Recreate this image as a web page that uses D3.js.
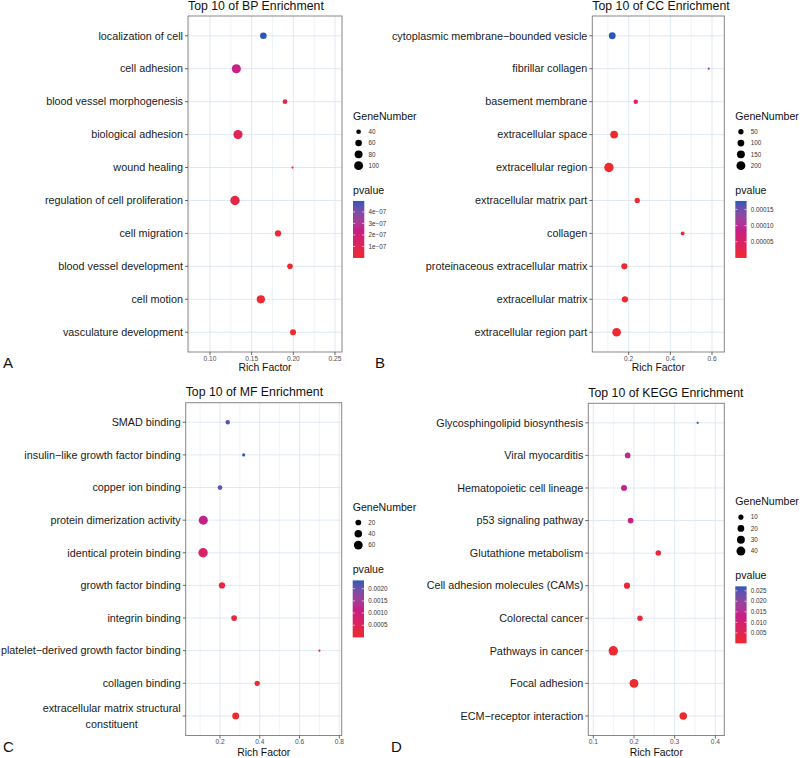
<!DOCTYPE html>
<html><head><meta charset="utf-8">
<script src="https://cdn.jsdelivr.net/npm/d3@7"></script>
<style>
body{margin:0;background:#fff}
svg{display:block;font-family:'Liberation Sans',Arial,Helvetica,sans-serif}
</style>
</head><body>
<svg id="chart" width="800" height="758"></svg>
<script>
// ---------- DATA ----------
const bpTerms = ["localization of cell","cell adhesion","blood vessel morphogenesis","biological adhesion","wound healing","regulation of cell proliferation","cell migration","blood vessel development","cell motion","vasculature development"];
const bpRich = [0.164,0.1316,0.190,0.1336,0.199,0.130,0.1816,0.196,0.161,0.1996];
const bpGenes = [60,104,40,106,30,110,55,48,86,52];
const bpPvalues = [4.95e-7,2.3e-7,0.7e-7,1.0e-7,0.3e-7,0.6e-7,0.2e-7,0.1e-7,0.05e-7,1e-10];
const bpXDomain = [0.0736,0.2584];
const bpXTicks = [0.10,0.15,0.20,0.25];
const bpXTickLabels = ["0.10","0.15","0.20","0.25"];
const bpGeneBreaks = [40,60,80,100];
const bpPBreaks = [1e-7,2e-7,3e-7,4e-7];
const bpPLabels = ["1e\u221207","2e\u221207","3e\u221207","4e\u221207"];

const ccTerms = ["cytoplasmic membrane\u2212bounded vesicle","fibrillar collagen","basement membrane","extracellular space","extracellular region","extracellular matrix part","collagen","proteinaceous extracellular matrix","extracellular matrix","extracellular region part"];
const ccRich = [0.121,0.584,0.234,0.130,0.105,0.241,0.459,0.179,0.182,0.142];
const ccGenes = [100,10,32,140,230,50,22,75,82,190];
const ccPvalues = [1.76e-4,1.23e-4,0.44e-4,1e-6,1e-8,5e-6,8e-6,1e-7,1e-7,1e-9];
const ccXDomain = [0.0253,0.659];
const ccXTicks = [0.2,0.4,0.6];
const ccXTickLabels = ["0.2","0.4","0.6"];
const ccGeneBreaks = [50,100,150,200];
const ccPBreaks = [0.00005,0.00010,0.00015];
const ccPLabels = ["0.00005","0.00010","0.00015"];

const mfTerms = ["SMAD binding","insulin\u2212like growth factor binding","copper ion binding","protein dimerization activity","identical protein binding","growth factor binding","integrin binding","platelet\u2212derived growth factor binding","collagen binding","extracellular matrix structural\nconstituent"];
const mfRich = [0.239,0.319,0.200,0.116,0.115,0.210,0.271,0.700,0.387,0.279];
const mfGenes = [10,5,12,64,70,25,20,4,16,32];
const mfPvalues = [0.0022,0.00234,0.0021,0.00117,0.0007,0.0002,0.00015,0.0001,0.00005,1e-6];
const mfXDomain = [0.0276,0.812];
const mfXTicks = [0.2,0.4,0.6,0.8];
const mfXTickLabels = ["0.2","0.4","0.6","0.8"];
const mfGeneBreaks = [20,40,60];
const mfPBreaks = [0.0005,0.0010,0.0015,0.0020];
const mfPLabels = ["0.0005","0.0010","0.0015","0.0020"];

const keggTerms = ["Glycosphingolipid biosynthesis","Viral myocarditis","Hematopoietic cell lineage","p53 signaling pathway","Glutathione metabolism","Cell adhesion molecules (CAMs)","Colorectal cancer","Pathways in cancer","Focal adhesion","ECM\u2212receptor interaction"];
const keggRich = [0.3565,0.1845,0.1755,0.1917,0.2597,0.1828,0.2147,0.1491,0.200,0.3211];
const keggGenes = [3,13,15,13,12,16,12,46,40,27];
const keggPvalues = [0.0271,0.0150,0.0142,0.0122,0.002,0.0015,0.001,0.0005,0.0001,0.00001];
const keggXDomain = [0.0877,0.422];
const keggXTicks = [0.1,0.2,0.3,0.4];
const keggXTickLabels = ["0.1","0.2","0.3","0.4"];
const keggGeneBreaks = [10,20,30,40];
const keggPBreaks = [0.005,0.010,0.015,0.020,0.025];
const keggPLabels = ["0.005","0.010","0.015","0.020","0.025"];

// ---------- LAYOUT ----------
const panels = [
  {title:"Top 10 of BP Enrichment", tag:"A", terms:bpTerms, rich:bpRich, genes:bpGenes, p:bpPvalues, xDomain:bpXDomain, xTicks:bpXTicks, xLabels:bpXTickLabels, gBreaks:bpGeneBreaks, pBreaks:bpPBreaks, pLabels:bpPLabels,
   box:{l:188,r:342,t:16,b:352}, tagX:3, tagY:368, rfY:370.5},
  {title:"Top 10 of CC Enrichment", tag:"B", terms:ccTerms, rich:ccRich, genes:ccGenes, p:ccPvalues, xDomain:ccXDomain, xTicks:ccXTicks, xLabels:ccXTickLabels, gBreaks:ccGeneBreaks, pBreaks:ccPBreaks, pLabels:ccPLabels,
   box:{l:592.3,r:724.3,t:16,b:352}, tagX:375, tagY:368, rfY:370.5},
  {title:"Top 10 of MF Enrichment", tag:"C", terms:mfTerms, rich:mfRich, genes:mfGenes, p:mfPvalues, xDomain:mfXDomain, xTicks:mfXTicks, xLabels:mfXTickLabels, gBreaks:mfGeneBreaks, pBreaks:mfPBreaks, pLabels:mfPLabels,
   box:{l:185.7,r:341.7,t:402.7,b:735.5}, tagX:3, tagY:752, rfY:755.5},
  {title:"Top 10 of KEGG Enrichment", tag:"D", terms:keggTerms, rich:keggRich, genes:keggGenes, p:keggPvalues, xDomain:keggXDomain, xTicks:keggXTicks, xLabels:keggXTickLabels, gBreaks:keggGeneBreaks, pBreaks:keggPBreaks, pLabels:keggPLabels,
   box:{l:588.3,r:724.3,t:403.3,b:735.5}, tagX:391, tagY:752, rfY:755.5}
];

const LOW = "#ee2a2e", MID = "#c4208a", HIGH = "#2b57b8";
const R_MIN = 1.1, R_MAX = 4.7;
const svg = d3.select("#chart");
const defs = svg.append("defs");

panels.forEach((P, pi) => {
  const {l, r, t, b} = P.box;
  const g = svg.append("g");
  const x = d3.scaleLinear().domain(P.xDomain).range([l, r]);
  const y = d3.scalePoint().domain(P.terms).range([t, b]).padding(0.6);
  const pExt = d3.extent(P.p);
  const color = d3.scaleLinear().domain([pExt[0], (pExt[0] + pExt[1]) / 2, pExt[1]])
    .range([LOW, MID, HIGH]).interpolate(d3.interpolateLab);
  const gExt = d3.extent(P.genes);
  const gNorm = d3.scaleLinear().domain(gExt).range([0, 1]).clamp(true);
  const rad = v => R_MIN + (R_MAX - R_MIN) * Math.sqrt(gNorm(v));

  g.append("rect").attr("x", l).attr("y", t).attr("width", r - l).attr("height", b - t).attr("fill", "#fff");

  const step = P.xTicks[1] - P.xTicks[0];
  const minor = [];
  for (let v = P.xTicks[0] - step / 2; v <= P.xDomain[1]; v += step) {
    if (v >= P.xDomain[0]) minor.push(v);
  }
  g.selectAll(".minor").data(minor).join("line")
    .attr("x1", d => x(d)).attr("x2", d => x(d)).attr("y1", t).attr("y2", b)
    .attr("stroke", "#e4ecf5").attr("stroke-width", 0.6);
  g.selectAll(".majx").data(P.xTicks).join("line")
    .attr("x1", d => x(d)).attr("x2", d => x(d)).attr("y1", t).attr("y2", b)
    .attr("stroke", "#dce6f2").attr("stroke-width", 0.9);
  g.selectAll(".majy").data(P.terms).join("line")
    .attr("x1", l).attr("x2", r).attr("y1", d => y(d)).attr("y2", d => y(d))
    .attr("stroke", "#dce6f2").attr("stroke-width", 0.9);

  const rows = P.terms.map((term, i) => ({term, rich: P.rich[i], genes: P.genes[i], p: P.p[i]}));
  g.selectAll(".pt").data(rows).join("circle")
    .attr("cx", d => x(d.rich)).attr("cy", d => y(d.term))
    .attr("r", d => rad(d.genes)).attr("fill", d => color(d.p));

  g.append("rect").attr("x", l).attr("y", t).attr("width", r - l).attr("height", b - t)
    .attr("fill", "none").attr("stroke", "#8a8585").attr("stroke-width", 1);

  const yAx = g.append("g");
  P.terms.forEach(term => {
    const yy = y(term);
    yAx.append("line").attr("x1", l - 3).attr("x2", l).attr("y1", yy).attr("y2", yy)
      .attr("stroke", "#444").attr("stroke-width", 0.8);
    const lines = term.split("\n");
    const lx = l - 5;
    if (lines.length === 1) {
      yAx.append("text").attr("x", lx).attr("y", yy).attr("dy", "0.35em")
        .attr("text-anchor", "end").attr("font-size", 10.8).attr("fill", "#1a1a1a").text(term);
    } else {
      const lh = 16;
      const texts = lines.map((s, k) => yAx.append("text")
        .attr("y", yy + (k - (lines.length - 1) / 2) * lh).attr("dy", "0.35em")
        .attr("text-anchor", "middle").attr("font-size", 10.8).attr("fill", "#1a1a1a").text(s));
      const maxW = d3.max(texts, tx => tx.node().getComputedTextLength());
      texts.forEach(tx => tx.attr("x", lx - maxW / 2));
    }
  });

  P.xTicks.forEach((v, i) => {
    g.append("line").attr("x1", x(v)).attr("x2", x(v)).attr("y1", b).attr("y2", b + 3)
      .attr("stroke", "#444").attr("stroke-width", 0.8);
    g.append("text").attr("x", x(v)).attr("y", b + 6.4).attr("dy", "0.35em")
      .attr("text-anchor", "middle").attr("font-size", 6.6).attr("fill", "#4d4d4d").text(P.xLabels[i]);
  });
  g.append("text").attr("x", (l + r) / 2).attr("y", P.rfY).attr("text-anchor", "middle")
    .attr("font-size", 10.4).attr("fill", "#111").text("Rich Factor");

  g.append("text").attr("x", l).attr("y", t - 6.3).attr("font-size", 12.3).attr("fill", "#111").text(P.title);
  g.append("text").attr("x", P.tagX).attr("y", P.tagY).attr("font-size", 15).attr("fill", "#111").text(P.tag);

  const n = P.gBreaks.length;
  const blockH = 114 + (n - 1) * 11.3;
  const T = (t + b) / 2 - blockH / 2;
  const LX = r + 11;
  const lg = g.append("g");
  lg.append("text").attr("x", LX).attr("y", T + 6).attr("dy", "0.35em").attr("font-size", 10.6).attr("fill", "#111").text("GeneNumber");
  P.gBreaks.forEach((v, i) => {
    const cy = T + 21.7 + i * 11.3;
    lg.append("circle").attr("cx", LX + 5.6).attr("cy", cy).attr("r", rad(v)).attr("fill", "#000");
    lg.append("text").attr("x", LX + 15.5).attr("y", cy).attr("dy", "0.35em").attr("font-size", 6.3).attr("fill", "#333").text(v);
  });
  const pTitleY = T + 21.7 + (n - 1) * 11.3 + 24.3;
  lg.append("text").attr("x", LX).attr("y", pTitleY).attr("dy", "0.35em").attr("font-size", 10.6).attr("fill", "#111").text("pvalue");
  const barTop = pTitleY + 11, barH = 57, barW = 11.3;
  const gradId = "grad" + pi;
  const grad = defs.append("linearGradient").attr("id", gradId).attr("x1", 0).attr("y1", 1).attr("x2", 0).attr("y2", 0);
  d3.range(0, 1.0001, 0.05).forEach(f => {
    grad.append("stop").attr("offset", f).attr("stop-color", color(pExt[0] + f * (pExt[1] - pExt[0])));
  });
  lg.append("rect").attr("x", LX).attr("y", barTop).attr("width", barW).attr("height", barH).attr("fill", `url(#${gradId})`);
  const barScale = d3.scaleLinear().domain(pExt).range([barTop + barH, barTop]);
  P.pBreaks.forEach((v, i) => {
    const yy = barScale(v);
    lg.append("line").attr("x1", LX).attr("x2", LX + 2.2).attr("y1", yy).attr("y2", yy).attr("stroke", "#fff").attr("stroke-width", 0.6);
    lg.append("line").attr("x1", LX + barW - 2.2).attr("x2", LX + barW).attr("y1", yy).attr("y2", yy).attr("stroke", "#fff").attr("stroke-width", 0.6);
    lg.append("text").attr("x", LX + 15.5).attr("y", yy).attr("dy", "0.35em").attr("font-size", 6.3).attr("fill", "#333").text(P.pLabels[i]);
  });
});
</script>
</body></html>
